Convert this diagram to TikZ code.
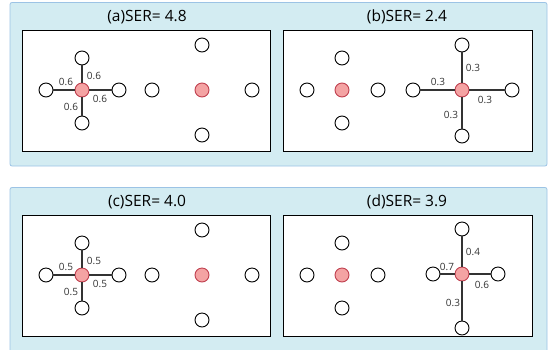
\documentclass[tikz,border=0pt]{standalone}
\usepackage{fontspec}
\setmainfont{Open Sans}
\definecolor{panelfill}{HTML}{D3ECF2}
\definecolor{paneldraw}{HTML}{9CC3E5}
\definecolor{redfill}{HTML}{F4A3A3}
\definecolor{reddraw}{HTML}{C0404F}
\definecolor{edgecol}{HTML}{333333}
\tikzset{
  panel/.style={fill=panelfill,draw=paneldraw,line width=0.8pt,rounded corners=2pt},
  inner/.style={fill=white,draw=black,line width=0.9pt},
  wnode/.style={circle,draw=black,fill=white,line width=0.9pt,minimum size=14pt,inner sep=0pt},
  rnode/.style={circle,draw=reddraw,fill=redfill,line width=0.9pt,minimum size=14pt,inner sep=0pt},
  edge/.style={draw=edgecol,line width=1.1pt},
  lbl/.style={font=\fontsize{10}{11}\selectfont,text=edgecol,inner sep=0pt},
  ttl/.style={font=\fontsize{15.5}{16}\selectfont,inner sep=0pt}
}
\begin{document}
\begin{tikzpicture}[x=1pt,y=-1pt]
\useasboundingbox (0,0) rectangle (551,349);
% panels
\draw[panel] (10,2.5) rectangle (547,166);
\draw[panel] (10,187.5) rectangle (547,360);
% inner boxes
\draw[inner] (22,30) rectangle (270,151);
\draw[inner] (283,30) rectangle (532,151);
\draw[inner] (22,215) rectangle (270,336);
\draw[inner] (283,215) rectangle (532,336);
% titles
\node[ttl] (ta) at (147,17) {(a)SER= 4.8};
\node[ttl] (tb) at (407,17) {(b)SER= 2.4};
\node[ttl] (tc) at (147,202) {(c)SER= 4.0};
\node[ttl] (td) at (407,202) {(d)SER= 3.9};

% ---------- (a) ----------
\node[rnode] (a1) at (82,90) {};
\node[wnode] (a1l) at (46,90) {};
\node[wnode] (a1r) at (119,90) {};
\node[wnode] (a1t) at (82,58) {};
\node[wnode] (a1b) at (82,123) {};
\node[wnode] (a2l) at (152,90) {};
\node[rnode] (a2) at (202,90) {};
\node[wnode] (a2r) at (252,90) {};
\node[wnode] (a2t) at (202,45) {};
\node[wnode] (a2b) at (202,135) {};
\draw[edge] (a1) -- (a1l);
\draw[edge] (a1) -- (a1r);
\draw[edge] (a1) -- (a1t);
\draw[edge] (a1) -- (a1b);
\node[lbl] (la1) at (94,76) {0.6};
\node[lbl] (la2) at (66,82) {0.6};
\node[lbl] (la3) at (100,99) {0.6};
\node[lbl] (la4) at (71,107) {0.6};

% ---------- (b) ----------
\node[wnode] (b1l) at (307,90) {};
\node[rnode] (b1) at (342,90) {};
\node[wnode] (b1r) at (378,90) {};
\node[wnode] (b1t) at (342,58) {};
\node[wnode] (b1b) at (342,123) {};
\node[rnode] (b2) at (462,90) {};
\node[wnode] (b2l) at (413,90) {};
\node[wnode] (b2r) at (512,90) {};
\node[wnode] (b2t) at (462,45) {};
\node[wnode] (b2b) at (462,136) {};
\draw[edge] (b2) -- (b2l);
\draw[edge] (b2) -- (b2r);
\draw[edge] (b2) -- (b2t);
\draw[edge] (b2) -- (b2b);
\node[lbl] (lb1) at (473,68) {0.3};
\node[lbl] (lb2) at (438,82) {0.3};
\node[lbl] (lb3) at (485,100) {0.3};
\node[lbl] (lb4) at (451,115) {0.3};

% ---------- (c) ----------
\node[rnode] (c1) at (82,275) {};
\node[wnode] (c1l) at (46,275) {};
\node[wnode] (c1r) at (119,275) {};
\node[wnode] (c1t) at (82,243) {};
\node[wnode] (c1b) at (82,308) {};
\node[wnode] (c2l) at (152,275) {};
\node[rnode] (c2) at (202,275) {};
\node[wnode] (c2r) at (252,275) {};
\node[wnode] (c2t) at (202,230) {};
\node[wnode] (c2b) at (202,320) {};
\draw[edge] (c1) -- (c1l);
\draw[edge] (c1) -- (c1r);
\draw[edge] (c1) -- (c1t);
\draw[edge] (c1) -- (c1b);
\node[lbl] (lc1) at (94,261) {0.5};
\node[lbl] (lc2) at (66,267) {0.5};
\node[lbl] (lc3) at (100,284) {0.5};
\node[lbl] (lc4) at (71,292) {0.5};

% ---------- (d) ----------
\node[wnode] (d1l) at (307,275) {};
\node[rnode] (d1) at (342,275) {};
\node[wnode] (d1r) at (378,275) {};
\node[wnode] (d1t) at (342,243) {};
\node[wnode] (d1b) at (342,308) {};
\node[rnode] (d2) at (462,274) {};
\node[wnode] (d2l) at (433,274) {};
\node[wnode] (d2r) at (498,274) {};
\node[wnode] (d2t) at (462,229) {};
\node[wnode] (d2b) at (462,328) {};
\draw[edge] (d2) -- (d2l);
\draw[edge] (d2) -- (d2r);
\draw[edge] (d2) -- (d2t);
\draw[edge] (d2) -- (d2b);
\node[lbl] (ld1) at (473,252) {0.4};
\node[lbl] (ld2) at (447,267) {0.7};
\node[lbl] (ld3) at (482,285) {0.6};
\node[lbl] (ld4) at (453,303) {0.3};
\end{tikzpicture}
\end{document}
